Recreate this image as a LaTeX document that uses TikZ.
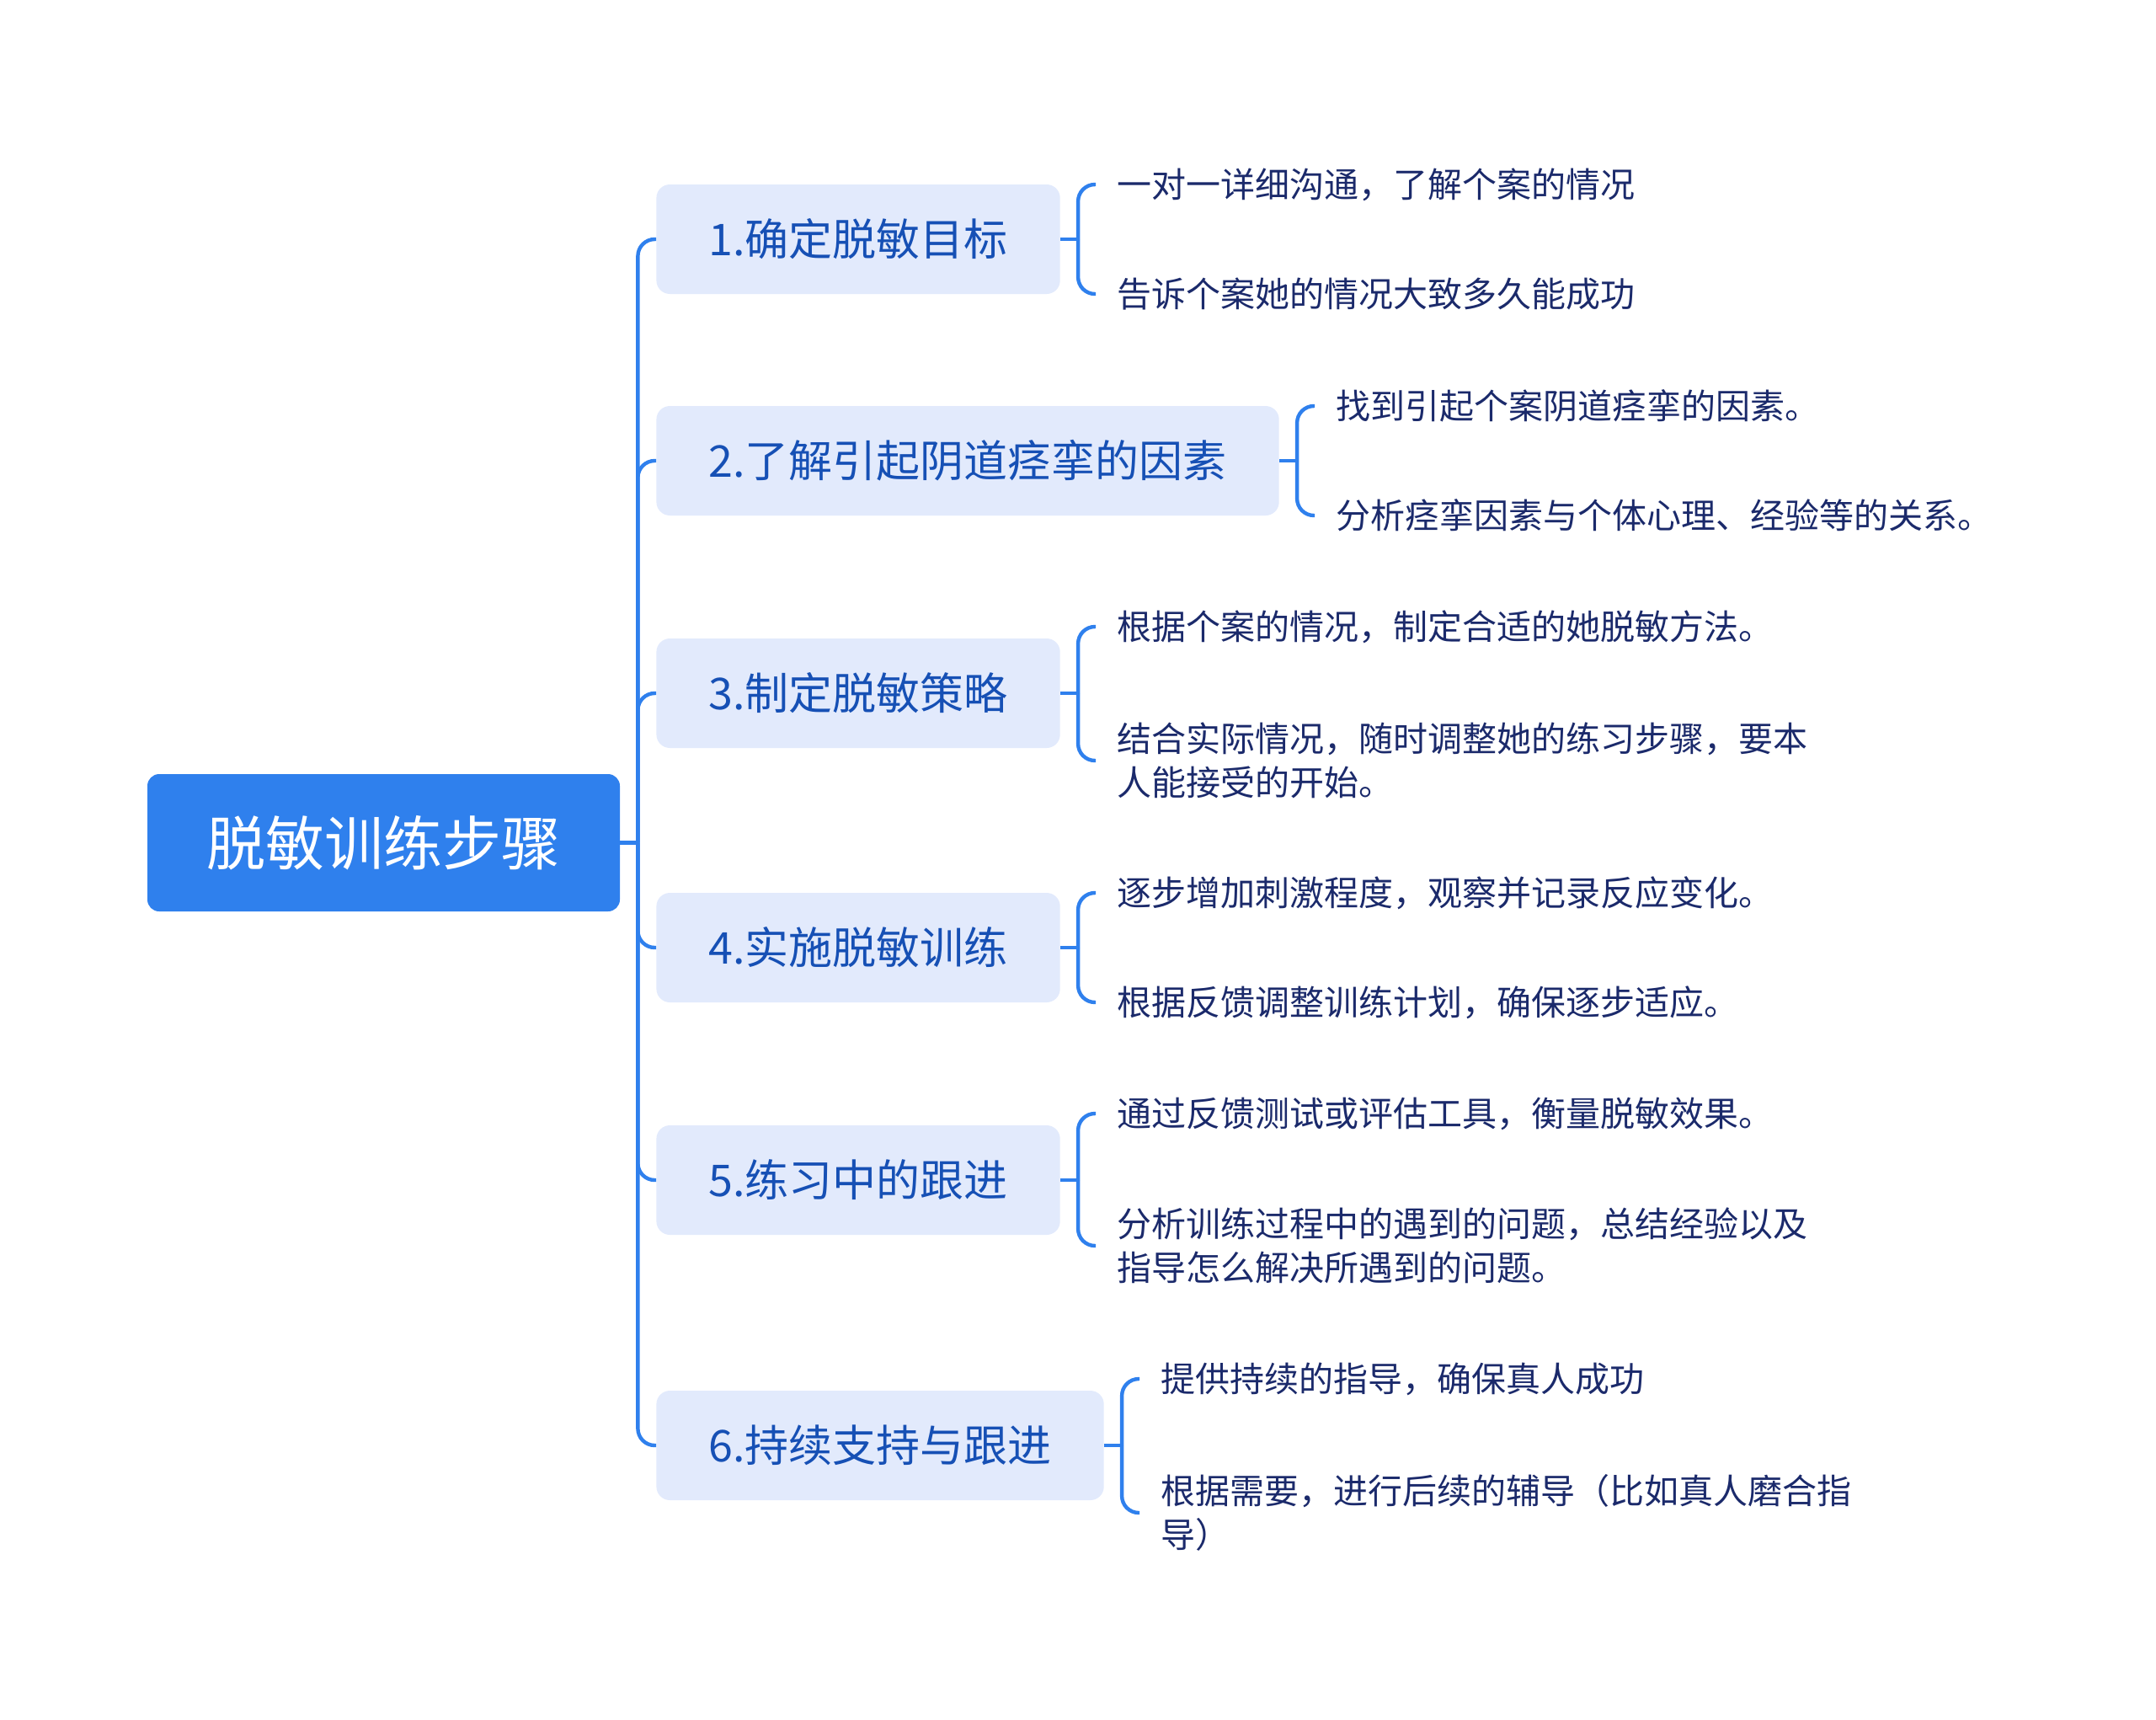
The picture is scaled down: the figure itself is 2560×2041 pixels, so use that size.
\documentclass[tikz,border=0pt]{standalone}
\usepackage{fontspec}
\newfontfamily\cjk{Noto Sans CJK SC}
\usetikzlibrary{positioning,calc}
\definecolor{MapBlue}{RGB}{47,128,237}
\definecolor{BoxFill}{RGB}{226,234,252}
\definecolor{BoxText}{RGB}{22,80,181}
\definecolor{LeafText}{RGB}{27,42,107}
\tikzset{
  rnode/.style={rectangle,rounded corners=7pt,fill=MapBlue,text=white,
                font=\cjk\fontsize{35}{42}\selectfont,minimum width=280.5pt,
                minimum height=81.5pt},
  bnode/.style={rectangle,rounded corners=8pt,fill=BoxFill,text=BoxText,
                font=\cjk\fontsize{26}{32}\selectfont,minimum height=65pt,
                inner xsep=31pt,anchor=west},
  lnode/.style={font=\cjk\fontsize{20.5}{26}\selectfont,text=LeafText,
                align=left,inner xsep=12.5pt,inner ysep=0pt,anchor=west},
  tedge/.style={MapBlue,line width=2.2pt,rounded corners=10pt},
}

\begin{document}
\begin{tikzpicture}[x=0.5pt,y=-0.5pt]
  \useasboundingbox (0,0) rectangle (2560,2041);
  \node[rnode] (root) at (455.5,1000.5) {脱敏训练步骤};
  %
  \node[bnode] (b1) at (779,284)  {1.确定脱敏目标};
  \node[bnode] (b2) at (779,547)  {2.了解引起阴道痉挛的因素};
  \node[bnode] (b3) at (779,823)  {3.制定脱敏策略};
  \node[bnode] (b4) at (779,1125) {4.实施脱敏训练};
  \node[bnode] (b5) at (779,1401) {5.练习中的跟进};
  \node[bnode] (b6) at (779,1716) {6.持续支持与跟进};
  %
  \node[lnode] (l1a) at ([xshift=21pt,yshift=32.5pt]b1.east)  {一对一详细沟通，了解个案的情况};
  \node[lnode] (l1b) at ([xshift=21pt,yshift=-32.5pt]b1.east) {告诉个案她的情况大致多久能成功};
  \node[lnode] (l2a) at ([xshift=21pt,yshift=32.5pt]b2.east)  {找到引起个案阴道痉挛的因素。};
  \node[lnode] (l2b) at ([xshift=21pt,yshift=-32.5pt]b2.east) {分析痉挛因素与个体心理、经验等的关系。};
  \node[lnode] (l3a) at ([xshift=21pt,yshift=39.5pt]b3.east)  {根据个案的情况，制定合适的她脱敏方法。};
  \node[lnode] (l3b) at ([xshift=21pt,yshift=-40pt]b3.east)   {结合实际情况，随时调整她的练习步骤，要本\\人能接受的开始。};
  \node[lnode] (l4a) at ([xshift=21pt,yshift=32.5pt]b4.east)  {逐步增加刺激程度，观察并记录反应变化。};
  \node[lnode] (l4b) at ([xshift=21pt,yshift=-32.5pt]b4.east) {根据反馈调整训练计划，确保逐步适应。};
  \node[lnode] (l5a) at ([xshift=21pt,yshift=39.5pt]b5.east)  {通过反馈测试或评估工具，衡量脱敏效果。};
  \node[lnode] (l5b) at ([xshift=21pt,yshift=-39pt]b5.east)   {分析训练过程中的遇到的问题，总结经验以及\\指导怎么解决所遇到的问题。};
  \node[lnode] (l6a) at ([xshift=21pt,yshift=39.5pt]b6.east)  {提供持续的指导，确保真人成功};
  \node[lnode] (l6b) at ([xshift=21pt,yshift=-40pt]b6.east)   {根据需要，进行后续的辅导（比如真人磨合指\\导）};
  %
  \coordinate (tk) at ([xshift=10.5pt]root.east);
  \draw[tedge] (root.east) -- (tk);
  \foreach \b in {b1,b2,b3,b4,b5,b6}
    \draw[tedge] (tk) |- (\b.west);
  %
  \foreach \b in {1,...,6} {
    \coordinate (k\b) at ([xshift=10.5pt]b\b.east);
    \draw[tedge] (b\b.east) -- (k\b);
    \draw[tedge] (k\b) |- (l\b a.west);
    \draw[tedge] (k\b) |- (l\b b.west);
  }
\end{tikzpicture}
\end{document}
